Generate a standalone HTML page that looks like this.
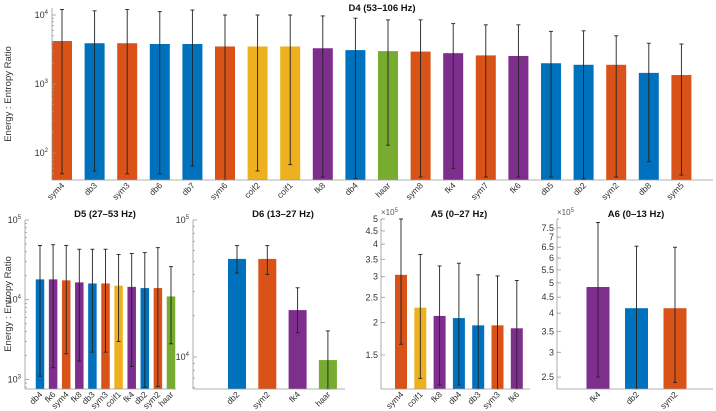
<!DOCTYPE html>
<html><head><meta charset="utf-8">
<style>
html,body{margin:0;padding:0;background:#fff;}
svg{display:block;font-family:"Liberation Sans",sans-serif;}
</style></head>
<body>
<svg id="chart" width="716" height="411" viewBox="0 0 716 411" xmlns="http://www.w3.org/2000/svg"></svg>
<script>
// ---- Data ----
const d4Cats = ["sym4","db3","sym3","db6","db7","sym6","coif2","coif1","fk8","db4","haar","sym8","fk4","sym7","fk6","db5","db2","sym2","db8","sym5"];
const d4Vals = [4200,3900,3900,3800,3800,3500,3500,3500,3300,3100,3000,2950,2800,2600,2550,2000,1900,1900,1450,1350];
const d4Hi = [12000,11500,12000,11200,11800,10000,10000,10000,9700,9000,8500,8500,7500,7200,7200,5800,5900,5000,3900,3800];
const d4Lo = [50,55,50,50,65,40,55,68,45,43,130,45,60,45,45,45,42,45,75,48];

const d5Cats = ["db4","fk6","sym4","fk8","db3","sym3","coif1","fk4","db2","sym2","haar"];
const d5Vals = [18000,18000,17500,16500,16000,16000,15000,14500,14000,14000,11000];
const d5Hi = [48000,49000,48000,43000,43000,43000,37000,38000,39000,45000,26000];
const d5Lo = [1100,1400,2100,1700,2200,2200,3000,1450,800,820,2800];

const d6Cats = ["db2","sym2","fk4","haar"];
const d6Vals = [52000,52000,22000,9500];
const d6Hi = [65000,65000,32000,15500];
const d6Lo = [41000,40000,15000,5840];

const a5Cats = ["sym4","coif1","fk8","db4","db3","sym3","fk6"];
const a5Vals = [305000,228000,212000,208000,195000,195000,190000];
const a5Hi = [500000,365000,330000,338000,305000,302000,290000];
const a5Lo = [165000,122000,115000,115000,110000,110000,110000];
const a5Ticks = [1.5,2,2.5,3,3.5,4,4.5,5];

const a6Cats = ["fk4","db2","sym2"];
const a6Vals = [485000,415000,415000];
const a6Hi = [780000,655000,650000];
const a6Lo = [250000,229000,240000];
const a6Ticks = [2.5,3,3.5,4,4.5,5,5.5,6,6.5,7,7.5];

// ---- Colors ----
const COL = {sym:"#D95319", db:"#0072BD", coif:"#EDB120", fk:"#7E2F8E", haar:"#77AC30"};
function colorOf(n){ for (const k in COL) if (n.startsWith(k)) return COL[k]; return "#888"; }

const svg = document.getElementById('chart');
const NS = "http://www.w3.org/2000/svg";
function mk(tag, attrs, parent){ const e=document.createElementNS(NS,tag); for(const k in attrs) e.setAttribute(k,attrs[k]); (parent||svg).appendChild(e); return e; }

function panel(cfg){
  const g = mk('g',{});
  
  
  const lmin=Math.log10(cfg.ymin), lmax=Math.log10(cfg.ymax);
  const y = v => cfg.bottom - (Math.log10(Math.max(v,cfg.ymin)) - lmin)/(lmax-lmin)*(cfg.bottom-cfg.top);
  const x = i => cfg.x0 + i*cfg.step;
  // bars
  cfg.cats.forEach((c,i)=>{
    const r = mk('rect',{x:x(i)-cfg.bw/2, y:y(cfg.vals[i]), width:cfg.bw, height:cfg.bottom-y(cfg.vals[i]), fill:colorOf(c)}, g);
    
    
  });
  // error bars
  cfg.cats.forEach((c,i)=>{
    const yh=y(Math.min(cfg.hi[i],cfg.ymax)), yl=y(cfg.lo[i]);
    const eg = mk('g',{stroke:"#222","stroke-width":0.9}, g);
    
    
    mk('line',{x1:x(i),x2:x(i),y1:yh,y2:yl},eg);
    mk('line',{x1:x(i)-2,x2:x(i)+2,y1:yh,y2:yh},eg);
    mk('line',{x1:x(i)-2,x2:x(i)+2,y1:yl,y2:yl},eg);
  });
  // axes
  const ax = mk('g',{stroke:"#999","stroke-width":0.8,fill:"none"}, g);
  
  
  mk('line',{x1:cfg.left,x2:cfg.left,y1:cfg.top,y2:cfg.bottom},ax);
  mk('line',{x1:cfg.left,x2:cfg.right,y1:cfg.bottom,y2:cfg.bottom},ax);
  // minor ticks
  for(let d=Math.floor(lmin); d<=Math.ceil(lmax); d++){
    for(let m=1;m<10;m++){
      const v=m*Math.pow(10,d); if(v<cfg.ymin||v>cfg.ymax) continue;
      mk('line',{x1:cfg.left,x2:cfg.left+(m===1&&!cfg.lin?4:2),y1:y(v),y2:y(v)},ax);
    }
  }
  // y tick labels
  if(cfg.lin){
    cfg.ticks.forEach(t=>{
      const v=t*cfg.mult; const yy=y(v);
      mk('line',{x1:cfg.left,x2:cfg.left+4,y1:yy,y2:yy},ax);
      const tx=mk('text',{x:cfg.left-3,y:yy+3,'text-anchor':'end','font-size':9,fill:"#333"},g);
      tx.textContent=String(t);
      
      
    });
    const ex=mk('text',{x:cfg.left,y:cfg.top-4,'font-size':8,fill:"#555"},g);
    ex.innerHTML='×10<tspan dy="-3" font-size="6">5</tspan>';
    
    
  } else {
    for(let d=Math.ceil(lmin); d<=Math.floor(lmax+1e-9); d++){
      const tx=mk('text',{x:cfg.left-4,y:y(Math.pow(10,d))+3,'text-anchor':'end','font-size':9,fill:"#333"},g);
      tx.innerHTML='10<tspan dy="-4" font-size="6">'+d+'</tspan>';
      
      
    }
  }
  // x labels
  cfg.cats.forEach((c,i)=>{
    const tx=mk('text',{x:x(i)+3,y:cfg.bottom+6,'text-anchor':'end','font-size':8.5,fill:"#333",transform:`rotate(-45 ${x(i)+3} ${cfg.bottom+6})`},g);
    tx.textContent=c;
    
    
  });
  const t=mk('text',{x:cfg.tx,y:cfg.ty,'text-anchor':'middle','font-size':9.5,'font-weight':'bold',fill:"#111"},g);
  t.textContent=cfg.title;
  
  
  if(cfg.ylabel){
    const yl=mk('text',{x:cfg.ylx,y:cfg.yly,'text-anchor':'middle','font-size':9.5,fill:"#333",transform:`rotate(-90 ${cfg.ylx} ${cfg.yly})`},g);
    yl.textContent='Energy : Entropy Ratio';
    
    
  }
}

panel({name:'d4-panel',cats:d4Cats,vals:d4Vals,hi:d4Hi,lo:d4Lo,ymin:40.7,ymax:12630,top:8,bottom:180,left:52,right:713,x0:62,step:32.6,bw:20,title:'D4 (53–106 Hz)',tx:382,ty:11,ylabel:true,ylx:11,yly:94});
panel({name:'d5-panel',cats:d5Cats,vals:d5Vals,hi:d5Hi,lo:d5Lo,ymin:759,ymax:100000,top:220,bottom:389,left:25,right:176,x0:40,step:13.1,bw:8.5,title:'D5 (27–53 Hz)',tx:105,ty:217,ylabel:true,ylx:11,yly:304});
panel({name:'d6-panel',cats:d6Cats,vals:d6Vals,hi:d6Hi,lo:d6Lo,ymin:5840,ymax:100000,top:220,bottom:389,left:193,right:345,x0:237,step:30.3,bw:18,title:'D6 (13–27 Hz)',tx:283,ty:217});
panel({name:'a5-panel',cats:a5Cats,vals:a5Vals,hi:a5Hi,lo:a5Lo,ymin:111000,ymax:500000,top:219,bottom:389,left:381,right:530,x0:401,step:19.3,bw:12,title:'A5 (0–27 Hz)',tx:459,ty:217,lin:true,ticks:a5Ticks,mult:100000});
panel({name:'a6-panel',cats:a6Cats,vals:a6Vals,hi:a6Hi,lo:a6Lo,ymin:229000,ymax:800000,top:219,bottom:389,left:557,right:713,x0:598,step:38.5,bw:23,title:'A6 (0–13 Hz)',tx:636,ty:217,lin:true,ticks:a6Ticks,mult:100000});
</script>
</body></html>
